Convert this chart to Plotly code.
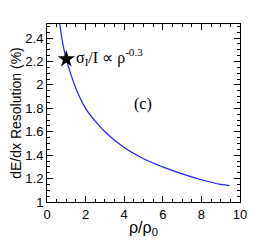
import plotly.graph_objects as go

# Curve: resolution (%) vs rho/rho0
rho = [0.66, 0.8, 1.0, 1.5, 2.0, 2.5, 3.0, 4.0, 5.0, 6.0, 7.0, 8.0, 9.0, 9.45]
resolution = [2.52, 2.37, 2.22, 1.97, 1.80, 1.69, 1.60, 1.465, 1.37, 1.30, 1.24, 1.19, 1.15, 1.14]

# Star marker point
star_x = [1.0]
star_y = [2.22]

x_ticks = [0, 2, 4, 6, 8, 10]
y_ticks = [1.0, 1.2, 1.4, 1.6, 1.8, 2.0, 2.2, 2.4]
y_tick_labels = ["1", "1.2", "1.4", "1.6", "1.8", "2", "2.2", "2.4"]

fig = go.Figure()
fig.add_trace(go.Scatter(x=rho, y=resolution, mode="lines", line=dict(color="#2020ff", width=1.2, shape="spline"),
                         hoverinfo="skip", showlegend=False))
fig.add_trace(go.Scatter(x=star_x, y=star_y, mode="markers",
                         marker=dict(symbol="star", size=13, color="black"), showlegend=False))

fig.add_annotation(x=1.4, y=2.235, xref="x", yref="y", xanchor="left", yanchor="middle",
                   text="σ<sub>I</sub>/I ∝ ρ<sup>-0.3</sup>", showarrow=False,
                   font=dict(family="Liberation Serif", size=16, color="black"))
fig.add_annotation(x=4.95, y=1.84, xref="x", yref="y", xanchor="center", yanchor="middle",
                   text="(c)", showarrow=False,
                   font=dict(family="Liberation Serif", size=16, color="black"))
# x axis title placed as annotation below the axis
fig.add_annotation(x=0.5, y=-0.15, xref="paper", yref="paper", xanchor="center", yanchor="middle",
                   text="ρ/ρ<sub>0</sub>", showarrow=False,
                   font=dict(family="Liberation Sans", size=16, color="black"))

axis_common = dict(showgrid=False, zeroline=False, showline=True, linecolor="black", linewidth=1,
                   ticks="inside", ticklen=6, tickwidth=1, tickcolor="black", mirror="ticks",
                   automargin=False,
                   tickfont=dict(family="Liberation Sans", size=13, color="black"))

fig.update_xaxes(range=[0, 10], tickvals=x_ticks, ticktext=[str(v) for v in x_ticks],
                 minor=dict(dtick=0.5, ticks="inside", ticklen=3, tickcolor="black", showgrid=False),
                 **axis_common)
fig.update_yaxes(range=[1.0, 2.52], tickvals=y_ticks, ticktext=y_tick_labels,
                 minor=dict(dtick=0.05, tick0=1.0, ticks="inside", ticklen=3, tickcolor="black", showgrid=False),
                 title=dict(text="dE/dx Resolution (%)", font=dict(family="Liberation Sans", size=14, color="black"), standoff=4),
                 **axis_common)

fig.update_layout(width=258, height=234, margin=dict(l=39, r=26, t=16, b=40),
                  paper_bgcolor="white", plot_bgcolor="white", showlegend=False)

fig.write_html("out.html")
